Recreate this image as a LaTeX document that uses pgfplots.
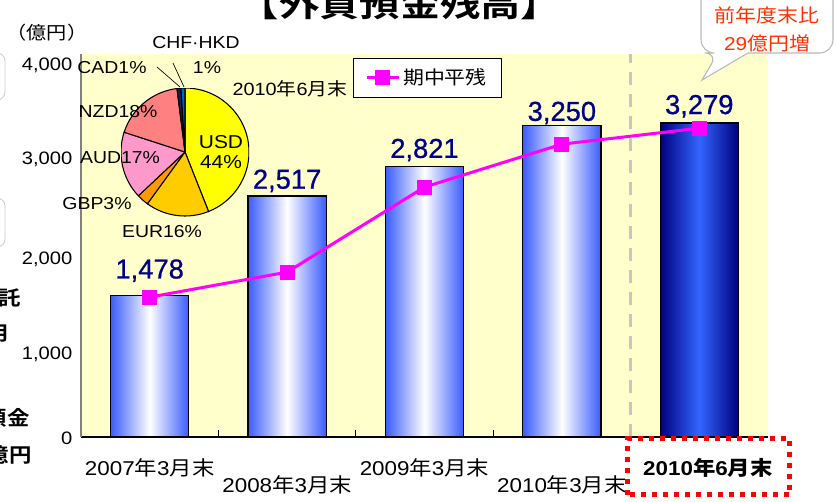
\documentclass[border=0pt]{standalone}
\usepackage{pgfplots}
\pgfplotsset{compat=1.18}
\usepackage{fontspec}
\setmainfont{Liberation Sans}[FakeStretch=1.12]
\newfontfamily\plain{Liberation Sans}[FakeBold=0.8]
\newfontfamily\jp{Noto Sans CJK JP}[FakeStretch=1.12]
\newfontfamily\jpb{Noto Sans CJK JP Bold}[FakeStretch=1.12]
\newcommand\J[1]{{\jp #1}}
\newcommand\JB[1]{{\jpb #1}}
\newcommand\yl[2]{\raisebox{#1}[0pt][0pt]{#2}}
\definecolor{bgyellow}{HTML}{FFFFCC}
\definecolor{barblue}{HTML}{3A5CFF}
\definecolor{navy}{HTML}{000080}
\definecolor{brightblue}{HTML}{3366FF}
\definecolor{lblnavy}{HTML}{00008B}
\definecolor{mag}{HTML}{FF00FF}
\definecolor{calloutred}{HTML}{FF3300}
\definecolor{usdc}{HTML}{FFFF00}
\definecolor{eurc}{HTML}{FFCC00}
\definecolor{gbpc}{HTML}{FF9900}
\definecolor{audc}{HTML}{FF99CC}
\definecolor{nzdc}{HTML}{FF8080}
\definecolor{cadc}{HTML}{1A1A4D}
\definecolor{chfc}{HTML}{0066CC}
\begin{document}
\begin{tikzpicture}[x=0.75pt,y=0.75pt]
\useasboundingbox (0,0) rectangle (836,501);
% title (cut off at the top)
\node[anchor=base] at (400,484) {\fontsize{27}{30}\selectfont\jpb 【外貨預金残高】};
% fragments at left edge
\draw[gray!40, rounded corners=6, line width=0.6pt] (-50,401) rectangle (5,448);
\draw[gray!40, rounded corners=6, line width=0.6pt] (-50,254) rectangle (5,303);
\node[anchor=east, inner sep=0pt] at (21,203) {\fontsize{15}{18}\selectfont\jpb 信託};
\node[anchor=east, inner sep=0pt] at (9,168) {\fontsize{15}{18}\selectfont\jpb 運用};
\node[anchor=east, inner sep=0pt] at (30,83) {\fontsize{15}{18}\selectfont\jpb 外貨預金};
\node[anchor=east, inner sep=0pt] at (32,46) {\fontsize{15}{18}\selectfont\jpb 残高億円};
\node at (47,468) {\fontsize{13.5}{16}\selectfont\jp （億円）};

\begin{axis}[at={(60.75pt,48pt)}, anchor=south west, scale only axis,
  width=515.25pt, height=287.25pt,
  xmin=-0.5, xmax=4.5, ymin=0, ymax=4000,
  axis background/.style={fill=bgyellow},
  axis x line*=bottom, axis y line*=left,
  x axis line style={black, line width=0.8pt, -},
  y axis line style={gray, line width=0.8pt, -},
  xtick={0.5,1.5,2.5,3.5}, xticklabels={},
  xtick align=inside, major tick length=5pt,
  xtick style={black, line width=0.6pt},
  extra x ticks={0,1,2,3,4},
  extra x tick labels={2007\J{年}3\J{月末}, \raisebox{-12.75pt}{2008\J{年}3\J{月末}}, 2009\J{年}3\J{月末}, \raisebox{-12.75pt}{2010\J{年}3\J{月末}}, {\hspace*{13pt}\bfseries 2010\JB{年}6\JB{月末}}},
  extra x tick style={major tick length=0pt},
  xticklabel style={anchor=base, yshift=-28.5pt, font=\fontsize{15}{18}\selectfont},
  ytick={0,1000,2000,3000,4000},
  yticklabels={\yl{-5.25pt}{0}, \yl{-13.5pt}{1,000}, \yl{-14.25pt}{2,000}, \yl{-11.25pt}{3,000}, \yl{-12pt}{4,000}},
  ytick style={draw=none},
  yticklabel style={font=\fontsize{13.5}{16}\selectfont, xshift=-3pt},
  /pgf/number format/1000 sep={,},
  /pgf/number format/assume math mode=true,
  legend style={at={(0.396,0.99)}, anchor=north west, draw=black, fill=white,
    font=\jp\fontsize{14}{17}\selectfont, inner xsep=9pt, inner ysep=6pt, line width=0.6pt},
  legend image code/.code={\draw[#1, mark repeat=2, mark phase=2] plot coordinates {(0pt,0pt) (12pt,0pt) (24pt,0pt)};},
  every node near coord/.append style={anchor=base, inner sep=0pt, font=\plain\fontsize{20.5}{24}\selectfont, text=lblnavy},
]
\draw[color=gray!45, line width=2.4pt, dash pattern=on 9.75pt off 6.75pt] (axis cs:3.5,0) -- (axis cs:3.5,4000);
\addplot[ybar, bar width=0.568, bar shift=0pt, draw=black, line width=0.9pt, left color=barblue, right color=barblue, middle color=white, nodes near coords, every node near coord/.append style={yshift=12.75pt}, forget plot] coordinates {(0,1478)};
\addplot[ybar, bar width=0.568, bar shift=0pt, draw=black, line width=0.9pt, left color=barblue, right color=barblue, middle color=white, nodes near coords, every node near coord/.append style={yshift=5.5pt}, forget plot] coordinates {(1,2517)};
\addplot[ybar, bar width=0.568, bar shift=0pt, draw=black, line width=0.9pt, left color=barblue, right color=barblue, middle color=white, nodes near coords, every node near coord/.append style={yshift=6.75pt}, forget plot] coordinates {(2,2821)};
\addplot[ybar, bar width=0.568, bar shift=0pt, draw=black, line width=0.9pt, left color=barblue, right color=barblue, middle color=white, nodes near coords, every node near coord/.append style={yshift=3.75pt}, forget plot] coordinates {(3,3250)};
\addplot[ybar, bar width=0.568, bar shift=0pt, draw=black, line width=0.9pt, left color=navy, right color=navy, middle color=brightblue, nodes near coords, every node near coord/.append style={yshift=6.75pt}, forget plot] coordinates {(4,3279)};
\addplot[color=mag, line width=2.25pt, mark=square*, mark size=4.5pt, mark options={solid, fill=mag}] coordinates {(0,1461) (1,1722) (2,2610) (3,3058) (4,3225)};
\addlegendentry{期中平残}
\end{axis}

% pie chart (2010年6月末 currency mix, percent)
\begin{axis}[at={(90.75pt,213.75pt)}, anchor=south west, scale only axis,
  width=96pt, height=96pt, xmin=-1, xmax=1, ymin=-1, ymax=1, hide axis]
\filldraw[fill=usdc, draw=black, line width=0.8pt] (axis cs:0,0) -- ++(90:48pt) arc[start angle=90, end angle=-68.4, radius=48pt] -- cycle;
\filldraw[fill=eurc, draw=black, line width=0.8pt] (axis cs:0,0) -- ++(-68.4:48pt) arc[start angle=-68.4, end angle=-126, radius=48pt] -- cycle;
\filldraw[fill=gbpc, draw=black, line width=0.8pt] (axis cs:0,0) -- ++(-126:48pt) arc[start angle=-126, end angle=-136.8, radius=48pt] -- cycle;
\filldraw[fill=audc, draw=black, line width=0.8pt] (axis cs:0,0) -- ++(-136.8:48pt) arc[start angle=-136.8, end angle=-198, radius=48pt] -- cycle;
\filldraw[fill=nzdc, draw=black, line width=0.8pt] (axis cs:0,0) -- ++(-198:48pt) arc[start angle=-198, end angle=-262.8, radius=48pt] -- cycle;
\filldraw[fill=cadc, draw=black, line width=0.8pt] (axis cs:0,0) -- ++(-262.8:48pt) arc[start angle=-262.8, end angle=-266.4, radius=48pt] -- cycle;
\filldraw[fill=chfc, draw=black, line width=0.8pt] (axis cs:0,0) -- ++(-266.4:48pt) arc[start angle=-266.4, end angle=-270, radius=48pt] -- cycle;
\end{axis}

% pie labels
\begin{scope}[font=\fontsize{13}{15}\selectfont]
\draw[black, line width=0.5pt] (157,434) -- (180,414);
\draw[black, line width=0.5pt] (173,438) -- (184,414);
\node at (196,458) {CHF·HKD};
\node at (207,433) {1\%};
\node at (112,433) {CAD1\%};
\node at (118,389) {NZD18\%};
\node at (120,343) {AUD17\%};
\node at (97,297) {GBP3\%};
\node at (162,269) {EUR16\%};
\node[align=center, font=\fontsize{14}{15}\selectfont] at (221,349) {USD\\44\%};
\end{scope}
\node at (290,412) {\fontsize{13.3}{16}\selectfont 2010\J{年}6\J{月末}};

% callout
\draw[fill=white, draw=gray!55, line width=0.8pt] (701,530) [rounded corners=10] -- (701,448) -- (718,448) [sharp corners] -- (702,421) -- (748,448) [rounded corners=10] -- (833,448) -- (833,530);
\node[text=calloutred, align=center, font=\jp\fontsize{14}{21}\selectfont] at (767,472) {前年度末比\\{\rmfamily 29}億円増};

% red dotted highlight
\draw[red, line width=3.75pt, dash pattern=on 3.75pt off 4.5pt] (627.5,6.5) rectangle (789.5,62.5);
\end{tikzpicture}
\end{document}
